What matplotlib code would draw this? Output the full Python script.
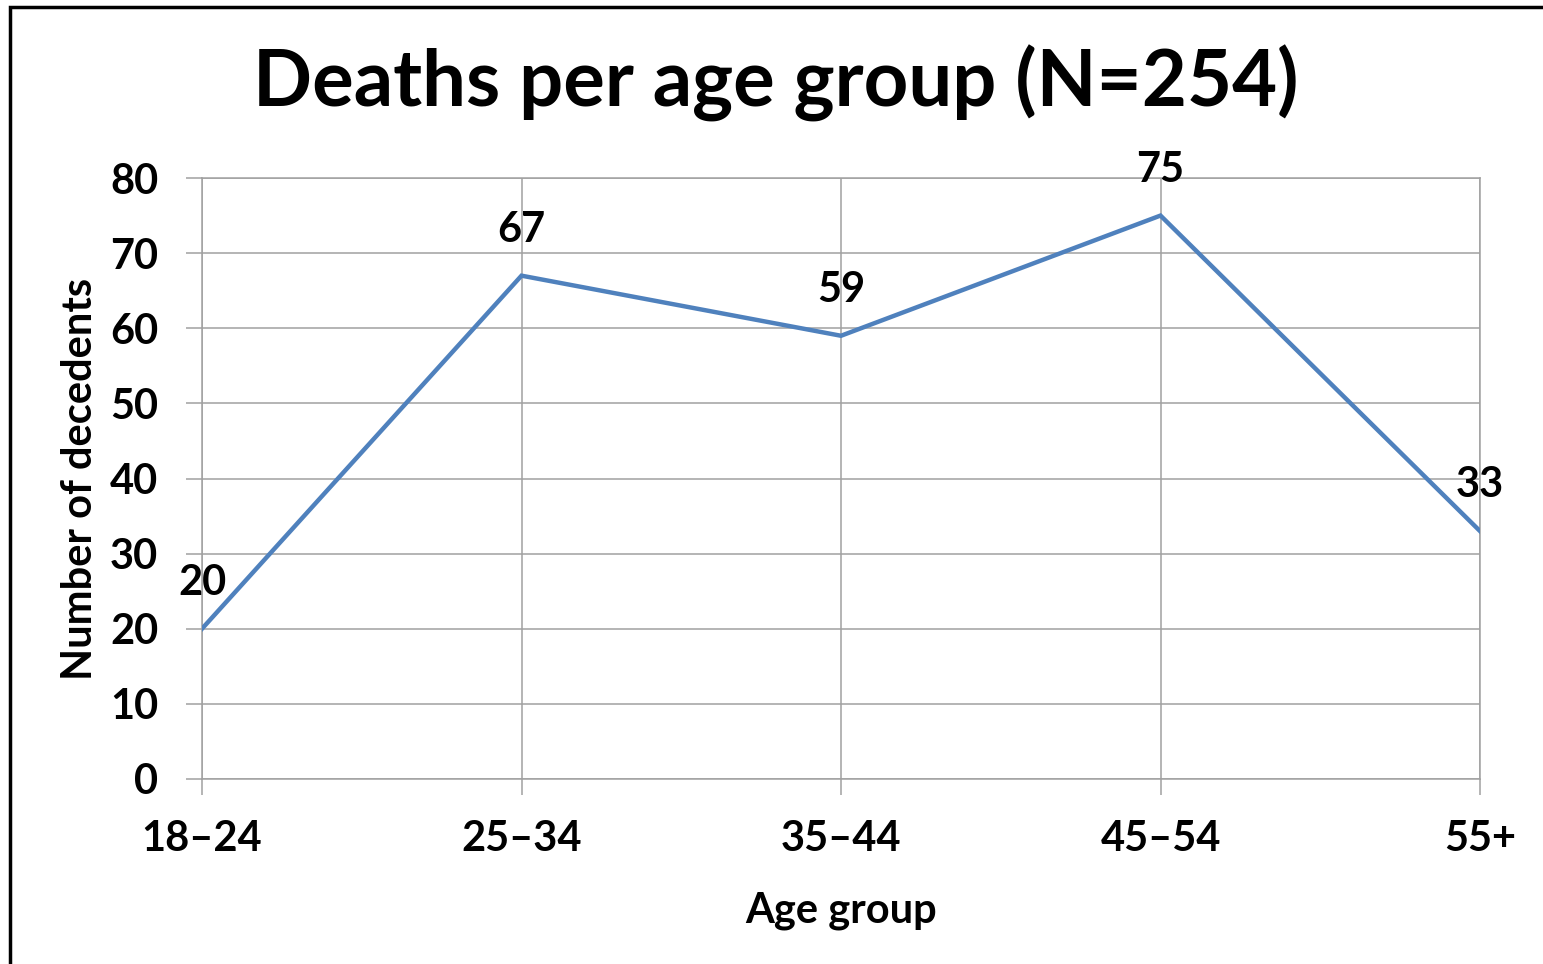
import matplotlib.pyplot as plt
from matplotlib.patches import Rectangle

# Dados do grafico
grupos_idade = ['18–24', '25–34', '35–44', '45–54', '55+']
obitos = [20, 67, 59, 75, 33]
y_ticks = [0, 10, 20, 30, 40, 50, 60, 70, 80]

plt.rcParams['font.family'] = ['Lato', 'DejaVu Sans']
plt.rcParams['font.weight'] = 'bold'

cinza = '#A0A0A0'
azul = '#4F81BD'

fig = plt.figure(figsize=(15.43, 9.64), dpi=100)
ax = fig.add_axes([202 / 1543, 1 - 779 / 964, 1278 / 1543, 601 / 964])

x = list(range(len(grupos_idade)))
ax.plot(x, obitos, color=azul, linewidth=3.2, zorder=3, solid_joinstyle='miter')

# Rotulos dos valores
for xi, v in zip(x, obitos):
    ax.annotate(str(v), (xi, v), xytext=(0, 33), textcoords='offset points',
                ha='center', va='center', fontsize=30, fontweight='bold')

ax.set_xlim(0, 4)
ax.set_ylim(0, 80)
ax.set_xticks(x)
ax.set_xticklabels(grupos_idade)
ax.set_yticks(y_ticks)
ax.grid(True, color=cinza, linewidth=1.1)
ax.set_axisbelow(True)
for s in ax.spines.values():
    s.set_color(cinza)
    s.set_linewidth(1.1)
ax.tick_params(axis='both', color=cinza, width=1.1, length=11.5, labelsize=30)
ax.tick_params(axis='y', pad=20)
ax.tick_params(axis='x', pad=18)

ax.set_xlabel('Age group', fontsize=30, fontweight='bold', labelpad=24)
ax.set_ylabel('Number of decedents', fontsize=30, fontweight='bold', labelpad=8)

fig.text(776 / 1543, 1 - 83 / 964, 'Deaths per age group (N=254)', ha='center',
         va='center', fontsize=56, fontweight='bold')

# Moldura
fig.patches.append(Rectangle((10 / 1543, -0.1), 1.2, 1.1 - 7 / 964,
                             transform=fig.transFigure, fill=False,
                             edgecolor='black', linewidth=2.5))

fig.savefig('out.png', dpi=100)
